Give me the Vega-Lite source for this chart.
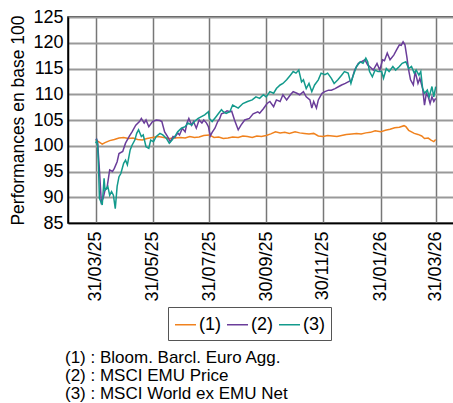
{
  "$schema": "https://vega.github.io/schema/vega-lite/v6.json",
  "autosize": {"type": "none"},
  "width": 386,
  "height": 206,
  "padding": {"left": 68, "top": 17, "right": 0, "bottom": 180},
  "background": "white",
  "config": {
    "font": "Liberation Sans",
    "view": {"stroke": "#000", "strokeWidth": 1.5},
    "axis": {"labelFontSize": 18, "labelColor": "#000", "titleColor": "#000", "titleFontSize": 17.5, "titleFontWeight": "normal", "ticks": false, "domainColor": "#000", "domainWidth": 1.5}
  },
  "title": {
    "text": ["(1) : Bloom. Barcl. Euro Agg.", "(2) : MSCI EMU Price", "(3) : MSCI World ex EMU Net"],
    "orient": "bottom", "anchor": "start", "frame": "group", "fontSize": 17, "fontWeight": "normal", "lineHeight": 18, "offset": 9, "dx": -3, "color": "#000"
  },
  "data": {"values": [
    {"d":"2025-03-31","s":"(1)","v":101.1},{"d":"2025-04-03","s":"(1)","v":100.8},{"d":"2025-04-07","s":"(1)","v":100.3},{"d":"2025-04-10","s":"(1)","v":100.6},{"d":"2025-04-15","s":"(1)","v":101.0},{"d":"2025-04-20","s":"(1)","v":101.2},{"d":"2025-04-25","s":"(1)","v":101.5},{"d":"2025-04-30","s":"(1)","v":101.6},{"d":"2025-05-05","s":"(1)","v":101.4},{"d":"2025-05-10","s":"(1)","v":101.5},{"d":"2025-05-15","s":"(1)","v":101.2},{"d":"2025-05-20","s":"(1)","v":101.1},{"d":"2025-05-25","s":"(1)","v":101.4},{"d":"2025-05-31","s":"(1)","v":101.6},{"d":"2025-06-06","s":"(1)","v":101.8},{"d":"2025-06-12","s":"(1)","v":101.6},{"d":"2025-06-18","s":"(1)","v":101.4},{"d":"2025-06-24","s":"(1)","v":101.5},{"d":"2025-06-30","s":"(1)","v":101.6},{"d":"2025-07-05","s":"(1)","v":101.5},{"d":"2025-07-10","s":"(1)","v":101.8},{"d":"2025-07-15","s":"(1)","v":101.6},{"d":"2025-07-20","s":"(1)","v":101.7},{"d":"2025-07-25","s":"(1)","v":102.0},{"d":"2025-07-31","s":"(1)","v":102.1},{"d":"2025-08-05","s":"(1)","v":101.6},{"d":"2025-08-10","s":"(1)","v":101.7},{"d":"2025-08-15","s":"(1)","v":101.4},{"d":"2025-08-20","s":"(1)","v":101.5},{"d":"2025-08-25","s":"(1)","v":101.7},{"d":"2025-08-31","s":"(1)","v":101.6},{"d":"2025-09-05","s":"(1)","v":101.9},{"d":"2025-09-10","s":"(1)","v":101.8},{"d":"2025-09-15","s":"(1)","v":101.6},{"d":"2025-09-20","s":"(1)","v":101.9},{"d":"2025-09-25","s":"(1)","v":101.8},{"d":"2025-09-30","s":"(1)","v":102.0},{"d":"2025-10-05","s":"(1)","v":102.3},{"d":"2025-10-10","s":"(1)","v":102.7},{"d":"2025-10-15","s":"(1)","v":102.5},{"d":"2025-10-20","s":"(1)","v":102.6},{"d":"2025-10-25","s":"(1)","v":102.4},{"d":"2025-10-31","s":"(1)","v":102.7},{"d":"2025-11-05","s":"(1)","v":102.5},{"d":"2025-11-10","s":"(1)","v":102.4},{"d":"2025-11-15","s":"(1)","v":102.3},{"d":"2025-11-20","s":"(1)","v":102.4},{"d":"2025-11-25","s":"(1)","v":101.9},{"d":"2025-11-30","s":"(1)","v":101.8},{"d":"2025-12-05","s":"(1)","v":102.0},{"d":"2025-12-10","s":"(1)","v":101.9},{"d":"2025-12-15","s":"(1)","v":101.8},{"d":"2025-12-20","s":"(1)","v":102.0},{"d":"2025-12-25","s":"(1)","v":102.2},{"d":"2025-12-31","s":"(1)","v":102.3},{"d":"2026-01-05","s":"(1)","v":102.4},{"d":"2026-01-10","s":"(1)","v":102.3},{"d":"2026-01-15","s":"(1)","v":102.5},{"d":"2026-01-20","s":"(1)","v":102.6},{"d":"2026-01-25","s":"(1)","v":102.9},{"d":"2026-01-31","s":"(1)","v":102.7},{"d":"2026-02-05","s":"(1)","v":103.0},{"d":"2026-02-10","s":"(1)","v":103.2},{"d":"2026-02-15","s":"(1)","v":103.5},{"d":"2026-02-20","s":"(1)","v":103.6},{"d":"2026-02-25","s":"(1)","v":103.9},{"d":"2026-02-27","s":"(1)","v":103.7},{"d":"2026-03-02","s":"(1)","v":103.0},{"d":"2026-03-05","s":"(1)","v":102.7},{"d":"2026-03-08","s":"(1)","v":102.4},{"d":"2026-03-12","s":"(1)","v":102.2},{"d":"2026-03-16","s":"(1)","v":101.9},{"d":"2026-03-19","s":"(1)","v":101.4},{"d":"2026-03-23","s":"(1)","v":101.5},{"d":"2026-03-26","s":"(1)","v":101.1},{"d":"2026-03-29","s":"(1)","v":100.8},{"d":"2026-03-31","s":"(1)","v":101.2},
    {"d":"2025-03-31","s":"(2)","v":101.1},{"d":"2025-04-01","s":"(2)","v":101.3},{"d":"2025-04-02","s":"(2)","v":100.8},{"d":"2025-04-04","s":"(2)","v":95.3},{"d":"2025-04-06","s":"(2)","v":89.1},{"d":"2025-04-08","s":"(2)","v":89.8},{"d":"2025-04-10","s":"(2)","v":91.4},{"d":"2025-04-12","s":"(2)","v":91.7},{"d":"2025-04-15","s":"(2)","v":95.3},{"d":"2025-04-18","s":"(2)","v":95.0},{"d":"2025-04-20","s":"(2)","v":95.6},{"d":"2025-04-23","s":"(2)","v":96.9},{"d":"2025-04-25","s":"(2)","v":98.5},{"d":"2025-04-29","s":"(2)","v":98.9},{"d":"2025-05-02","s":"(2)","v":100.5},{"d":"2025-05-06","s":"(2)","v":101.8},{"d":"2025-05-09","s":"(2)","v":102.7},{"d":"2025-05-13","s":"(2)","v":104.0},{"d":"2025-05-17","s":"(2)","v":104.7},{"d":"2025-05-19","s":"(2)","v":105.3},{"d":"2025-05-22","s":"(2)","v":104.4},{"d":"2025-05-24","s":"(2)","v":105.0},{"d":"2025-05-27","s":"(2)","v":103.7},{"d":"2025-05-31","s":"(2)","v":104.7},{"d":"2025-06-04","s":"(2)","v":105.0},{"d":"2025-06-08","s":"(2)","v":104.9},{"d":"2025-06-10","s":"(2)","v":104.7},{"d":"2025-06-13","s":"(2)","v":102.7},{"d":"2025-06-16","s":"(2)","v":101.8},{"d":"2025-06-19","s":"(2)","v":100.8},{"d":"2025-06-22","s":"(2)","v":101.8},{"d":"2025-06-24","s":"(2)","v":101.6},{"d":"2025-06-27","s":"(2)","v":102.5},{"d":"2025-06-29","s":"(2)","v":102.1},{"d":"2025-07-02","s":"(2)","v":103.4},{"d":"2025-07-05","s":"(2)","v":102.7},{"d":"2025-07-07","s":"(2)","v":104.4},{"d":"2025-07-09","s":"(2)","v":105.3},{"d":"2025-07-12","s":"(2)","v":104.0},{"d":"2025-07-14","s":"(2)","v":104.7},{"d":"2025-07-17","s":"(2)","v":103.4},{"d":"2025-07-20","s":"(2)","v":105.0},{"d":"2025-07-23","s":"(2)","v":104.4},{"d":"2025-07-25","s":"(2)","v":105.0},{"d":"2025-07-28","s":"(2)","v":104.4},{"d":"2025-07-30","s":"(2)","v":103.7},{"d":"2025-08-01","s":"(2)","v":101.9},{"d":"2025-08-03","s":"(2)","v":102.6},{"d":"2025-08-06","s":"(2)","v":103.4},{"d":"2025-08-09","s":"(2)","v":104.7},{"d":"2025-08-11","s":"(2)","v":105.2},{"d":"2025-08-13","s":"(2)","v":106.2},{"d":"2025-08-16","s":"(2)","v":106.4},{"d":"2025-08-19","s":"(2)","v":106.8},{"d":"2025-08-22","s":"(2)","v":106.6},{"d":"2025-08-24","s":"(2)","v":106.7},{"d":"2025-08-27","s":"(2)","v":105.0},{"d":"2025-08-31","s":"(2)","v":103.1},{"d":"2025-09-03","s":"(2)","v":104.0},{"d":"2025-09-07","s":"(2)","v":105.0},{"d":"2025-09-12","s":"(2)","v":105.3},{"d":"2025-09-16","s":"(2)","v":106.2},{"d":"2025-09-21","s":"(2)","v":106.6},{"d":"2025-09-23","s":"(2)","v":106.3},{"d":"2025-09-27","s":"(2)","v":107.2},{"d":"2025-10-01","s":"(2)","v":108.2},{"d":"2025-10-04","s":"(2)","v":108.6},{"d":"2025-10-08","s":"(2)","v":107.6},{"d":"2025-10-11","s":"(2)","v":108.9},{"d":"2025-10-15","s":"(2)","v":108.6},{"d":"2025-10-18","s":"(2)","v":109.9},{"d":"2025-10-22","s":"(2)","v":108.9},{"d":"2025-10-26","s":"(2)","v":109.9},{"d":"2025-10-29","s":"(2)","v":110.5},{"d":"2025-11-02","s":"(2)","v":110.2},{"d":"2025-11-05","s":"(2)","v":109.9},{"d":"2025-11-09","s":"(2)","v":110.5},{"d":"2025-11-12","s":"(2)","v":109.5},{"d":"2025-11-16","s":"(2)","v":108.9},{"d":"2025-11-18","s":"(2)","v":107.3},{"d":"2025-11-20","s":"(2)","v":108.6},{"d":"2025-11-23","s":"(2)","v":107.3},{"d":"2025-11-25","s":"(2)","v":108.9},{"d":"2025-11-29","s":"(2)","v":110.2},{"d":"2025-12-02","s":"(2)","v":110.5},{"d":"2025-12-06","s":"(2)","v":110.8},{"d":"2025-12-09","s":"(2)","v":110.8},{"d":"2025-12-13","s":"(2)","v":111.1},{"d":"2025-12-17","s":"(2)","v":111.5},{"d":"2025-12-20","s":"(2)","v":111.8},{"d":"2025-12-24","s":"(2)","v":112.1},{"d":"2025-12-27","s":"(2)","v":112.4},{"d":"2025-12-31","s":"(2)","v":112.8},{"d":"2026-01-03","s":"(2)","v":114.7},{"d":"2026-01-07","s":"(2)","v":116.0},{"d":"2026-01-10","s":"(2)","v":116.3},{"d":"2026-01-14","s":"(2)","v":116.7},{"d":"2026-01-17","s":"(2)","v":115.7},{"d":"2026-01-19","s":"(2)","v":115.4},{"d":"2026-01-23","s":"(2)","v":114.7},{"d":"2026-01-27","s":"(2)","v":116.0},{"d":"2026-01-30","s":"(2)","v":114.7},{"d":"2026-02-02","s":"(2)","v":116.7},{"d":"2026-02-04","s":"(2)","v":116.5},{"d":"2026-02-07","s":"(2)","v":118.0},{"d":"2026-02-10","s":"(2)","v":116.7},{"d":"2026-02-14","s":"(2)","v":117.6},{"d":"2026-02-17","s":"(2)","v":118.6},{"d":"2026-02-20","s":"(2)","v":119.6},{"d":"2026-02-22","s":"(2)","v":119.5},{"d":"2026-02-24","s":"(2)","v":120.2},{"d":"2026-02-26","s":"(2)","v":119.6},{"d":"2026-02-28","s":"(2)","v":117.3},{"d":"2026-03-02","s":"(2)","v":114.7},{"d":"2026-03-04","s":"(2)","v":112.8},{"d":"2026-03-07","s":"(2)","v":111.8},{"d":"2026-03-09","s":"(2)","v":114.4},{"d":"2026-03-12","s":"(2)","v":112.1},{"d":"2026-03-14","s":"(2)","v":113.1},{"d":"2026-03-17","s":"(2)","v":111.1},{"d":"2026-03-19","s":"(2)","v":107.9},{"d":"2026-03-21","s":"(2)","v":110.2},{"d":"2026-03-23","s":"(2)","v":109.5},{"d":"2026-03-25","s":"(2)","v":108.2},{"d":"2026-03-27","s":"(2)","v":109.5},{"d":"2026-03-29","s":"(2)","v":108.6},{"d":"2026-03-31","s":"(2)","v":109.2},
    {"d":"2025-03-31","s":"(3)","v":100.5},{"d":"2025-04-01","s":"(3)","v":101.0},{"d":"2025-04-02","s":"(3)","v":100.3},{"d":"2025-04-03","s":"(3)","v":96.0},{"d":"2025-04-04","s":"(3)","v":89.8},{"d":"2025-04-07","s":"(3)","v":88.5},{"d":"2025-04-09","s":"(3)","v":93.7},{"d":"2025-04-10","s":"(3)","v":91.4},{"d":"2025-04-13","s":"(3)","v":92.1},{"d":"2025-04-15","s":"(3)","v":90.4},{"d":"2025-04-17","s":"(3)","v":91.1},{"d":"2025-04-19","s":"(3)","v":90.4},{"d":"2025-04-21","s":"(3)","v":87.8},{"d":"2025-04-23","s":"(3)","v":92.1},{"d":"2025-04-25","s":"(3)","v":94.0},{"d":"2025-04-27","s":"(3)","v":94.6},{"d":"2025-04-30","s":"(3)","v":96.6},{"d":"2025-05-02","s":"(3)","v":97.2},{"d":"2025-05-04","s":"(3)","v":96.3},{"d":"2025-05-07","s":"(3)","v":99.2},{"d":"2025-05-09","s":"(3)","v":100.1},{"d":"2025-05-12","s":"(3)","v":101.1},{"d":"2025-05-14","s":"(3)","v":102.4},{"d":"2025-05-16","s":"(3)","v":103.1},{"d":"2025-05-19","s":"(3)","v":101.8},{"d":"2025-05-21","s":"(3)","v":102.1},{"d":"2025-05-24","s":"(3)","v":99.8},{"d":"2025-05-27","s":"(3)","v":99.5},{"d":"2025-05-29","s":"(3)","v":101.1},{"d":"2025-06-01","s":"(3)","v":100.8},{"d":"2025-06-04","s":"(3)","v":101.8},{"d":"2025-06-08","s":"(3)","v":102.4},{"d":"2025-06-11","s":"(3)","v":102.1},{"d":"2025-06-15","s":"(3)","v":101.4},{"d":"2025-06-18","s":"(3)","v":100.5},{"d":"2025-06-21","s":"(3)","v":101.1},{"d":"2025-06-25","s":"(3)","v":102.1},{"d":"2025-06-27","s":"(3)","v":102.7},{"d":"2025-07-01","s":"(3)","v":103.4},{"d":"2025-07-05","s":"(3)","v":103.7},{"d":"2025-07-08","s":"(3)","v":104.4},{"d":"2025-07-12","s":"(3)","v":104.0},{"d":"2025-07-15","s":"(3)","v":104.7},{"d":"2025-07-19","s":"(3)","v":105.3},{"d":"2025-07-22","s":"(3)","v":105.6},{"d":"2025-07-26","s":"(3)","v":106.0},{"d":"2025-07-30","s":"(3)","v":106.6},{"d":"2025-07-31","s":"(3)","v":105.3},{"d":"2025-08-03","s":"(3)","v":104.7},{"d":"2025-08-07","s":"(3)","v":105.6},{"d":"2025-08-10","s":"(3)","v":106.3},{"d":"2025-08-13","s":"(3)","v":107.0},{"d":"2025-08-15","s":"(3)","v":106.6},{"d":"2025-08-18","s":"(3)","v":106.3},{"d":"2025-08-22","s":"(3)","v":106.6},{"d":"2025-08-25","s":"(3)","v":107.9},{"d":"2025-08-31","s":"(3)","v":107.3},{"d":"2025-09-05","s":"(3)","v":108.2},{"d":"2025-09-10","s":"(3)","v":108.6},{"d":"2025-09-15","s":"(3)","v":108.9},{"d":"2025-09-19","s":"(3)","v":109.5},{"d":"2025-09-23","s":"(3)","v":109.2},{"d":"2025-09-27","s":"(3)","v":109.9},{"d":"2025-09-30","s":"(3)","v":109.5},{"d":"2025-10-04","s":"(3)","v":110.5},{"d":"2025-10-08","s":"(3)","v":110.2},{"d":"2025-10-11","s":"(3)","v":111.1},{"d":"2025-10-15","s":"(3)","v":111.8},{"d":"2025-10-18","s":"(3)","v":112.1},{"d":"2025-10-22","s":"(3)","v":112.8},{"d":"2025-10-26","s":"(3)","v":113.7},{"d":"2025-10-29","s":"(3)","v":114.4},{"d":"2025-11-01","s":"(3)","v":114.1},{"d":"2025-11-04","s":"(3)","v":114.7},{"d":"2025-11-07","s":"(3)","v":112.4},{"d":"2025-11-09","s":"(3)","v":112.8},{"d":"2025-11-12","s":"(3)","v":111.1},{"d":"2025-11-15","s":"(3)","v":112.1},{"d":"2025-11-18","s":"(3)","v":110.5},{"d":"2025-11-21","s":"(3)","v":111.8},{"d":"2025-11-25","s":"(3)","v":112.8},{"d":"2025-11-28","s":"(3)","v":114.1},{"d":"2025-12-02","s":"(3)","v":113.8},{"d":"2025-12-05","s":"(3)","v":114.1},{"d":"2025-12-09","s":"(3)","v":113.1},{"d":"2025-12-12","s":"(3)","v":112.1},{"d":"2025-12-16","s":"(3)","v":112.8},{"d":"2025-12-20","s":"(3)","v":113.7},{"d":"2025-12-23","s":"(3)","v":114.4},{"d":"2025-12-27","s":"(3)","v":114.1},{"d":"2025-12-30","s":"(3)","v":112.1},{"d":"2026-01-01","s":"(3)","v":113.4},{"d":"2026-01-05","s":"(3)","v":115.4},{"d":"2026-01-09","s":"(3)","v":116.3},{"d":"2026-01-12","s":"(3)","v":116.0},{"d":"2026-01-15","s":"(3)","v":117.0},{"d":"2026-01-17","s":"(3)","v":116.3},{"d":"2026-01-19","s":"(3)","v":114.4},{"d":"2026-01-22","s":"(3)","v":113.4},{"d":"2026-01-25","s":"(3)","v":114.7},{"d":"2026-01-28","s":"(3)","v":114.4},{"d":"2026-02-01","s":"(3)","v":114.4},{"d":"2026-02-03","s":"(3)","v":113.1},{"d":"2026-02-06","s":"(3)","v":115.0},{"d":"2026-02-09","s":"(3)","v":114.4},{"d":"2026-02-13","s":"(3)","v":115.4},{"d":"2026-02-16","s":"(3)","v":114.7},{"d":"2026-02-20","s":"(3)","v":115.4},{"d":"2026-02-23","s":"(3)","v":116.0},{"d":"2026-02-27","s":"(3)","v":116.3},{"d":"2026-03-02","s":"(3)","v":115.0},{"d":"2026-03-05","s":"(3)","v":115.4},{"d":"2026-03-08","s":"(3)","v":114.1},{"d":"2026-03-10","s":"(3)","v":114.7},{"d":"2026-03-13","s":"(3)","v":113.7},{"d":"2026-03-15","s":"(3)","v":114.4},{"d":"2026-03-17","s":"(3)","v":111.1},{"d":"2026-03-19","s":"(3)","v":110.2},{"d":"2026-03-22","s":"(3)","v":110.8},{"d":"2026-03-24","s":"(3)","v":109.5},{"d":"2026-03-27","s":"(3)","v":111.5},{"d":"2026-03-29","s":"(3)","v":109.5},{"d":"2026-03-31","s":"(3)","v":111.5}
  ]},
  "mark": {"type": "line", "strokeWidth": 1.5, "clip": true},
  "encoding": {
    "x": {
      "field": "d", "type": "temporal",
      "scale": {"type": "utc", "domain": [{"year": 2025, "month": 3, "date": 1, "hours": 6, "utc": true}, {"year": 2026, "month": 4, "date": 19, "hours": 16, "utc": true}]},
      "axis": {
        "title": null,
        "values": [
          {"year": 2025, "month": 3, "date": 31, "utc": true},
          {"year": 2025, "month": 5, "date": 31, "utc": true},
          {"year": 2025, "month": 7, "date": 31, "utc": true},
          {"year": 2025, "month": 9, "date": 30, "utc": true},
          {"year": 2025, "month": 11, "date": 30, "utc": true},
          {"year": 2026, "month": 1, "date": 31, "utc": true},
          {"year": 2026, "month": 3, "date": 31, "utc": true}
        ],
        "labelExpr": "utcFormat(datum.value, '%d/%m/%y')",
        "labelAngle": -90, "labelPadding": 8, "labelFontSize": 18,
        "grid": true, "gridColor": "#777", "gridWidth": 1.5
      }
    },
    "y": {
      "field": "v", "type": "quantitative",
      "scale": {"domain": [85, 125], "nice": false, "zero": false},
      "axis": {
        "title": "Performances en base 100", "titlePadding": 5,
        "values": [85, 90, 95, 100, 105, 110, 115, 120, 125],
        "labelPadding": 5, "labelFontSize": 18,
        "grid": true, "gridColor": "#999", "gridWidth": 2
      }
    },
    "color": {
      "field": "s", "type": "nominal",
      "scale": {"domain": ["(1)", "(2)", "(3)"], "range": ["#f0821e", "#6a3d9a", "#139a8c"]},
      "legend": {
        "title": null, "orient": "none", "legendX": 100, "legendY": 290, "direction": "horizontal",
        "symbolType": "stroke", "symbolSize": 441, "symbolStrokeWidth": 1.5,
        "labelFontSize": 18, "labelColor": "#000", "labelOffset": 2, "columnPadding": 3,
        "strokeColor": "#555", "padding": 6, "fillColor": "white"
      }
    }
  }
}
